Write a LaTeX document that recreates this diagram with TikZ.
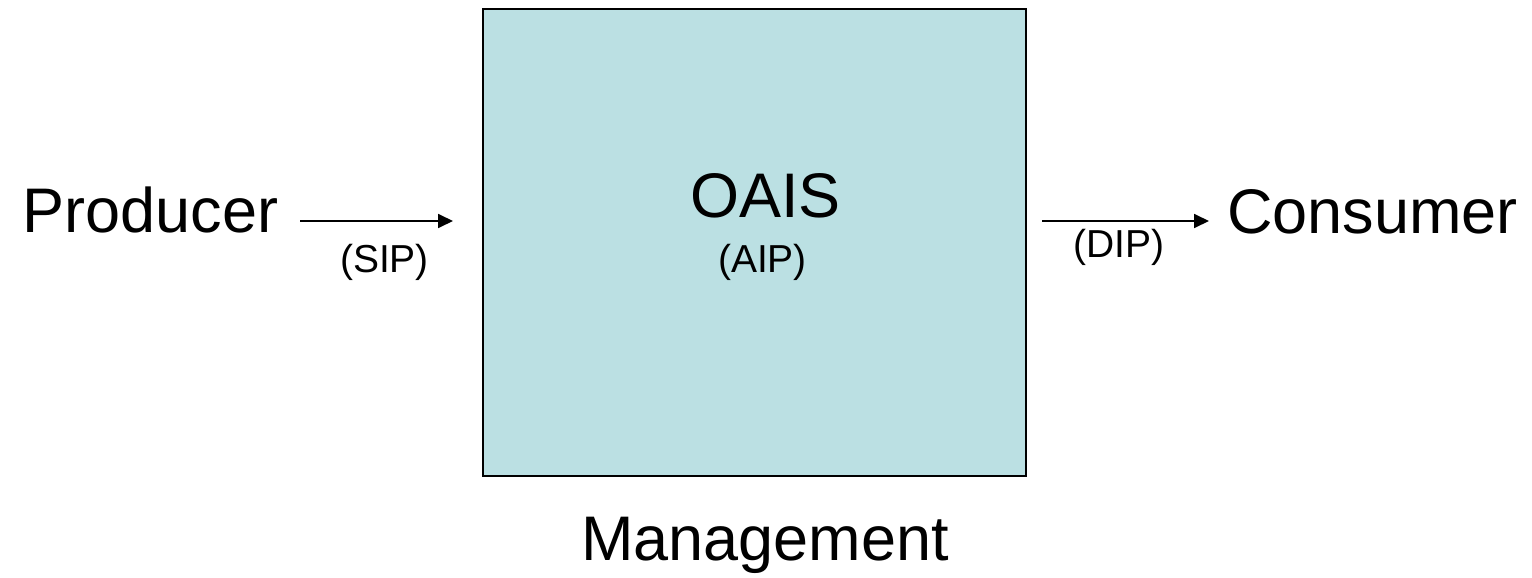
\documentclass[tikz,border=0pt]{standalone}
\usepackage{fontspec}
\setmainfont{Liberation Sans}
\usetikzlibrary{arrows.meta}
\definecolor{boxfill}{HTML}{BBE0E3}
\tikzset{
  big/.style={inner sep=0pt, font=\fontsize{63}{63}\selectfont, anchor=base},
  small/.style={inner sep=0pt, font=\fontsize{39}{39}\selectfont, anchor=base},
  flow/.style={line width=1.8pt, -{Triangle[length=15pt,width=14pt]}},
  oaisbox/.style={draw=black, line width=2pt, fill=boxfill}
}
\begin{document}
\begin{tikzpicture}[x=1pt,y=-1pt]
\useasboundingbox (0,0) rectangle (1532,578);
\draw[oaisbox] (483,9) rectangle (1026,476);
\coordinate (boxw) at (483,221);
\coordinate (boxe) at (1026,221);
\node[big] (prod) at (150.5,232) {Producer};
\node[big] (cons) at (1372.5,233) {Consumer};
\node[big] (oais) at (765.5,217) {OAIS};
\node[small] (aip) at (762.5,272) {(AIP)};
\node[small] (sip) at (384.5,272) {(SIP)};
\node[small] (dip) at (1119,257) {(DIP)};
\node[big] (mgmt) at (765,560) {Management};
\coordinate (sipstart) at (300,221);
\coordinate (sipend) at (453,221);
\coordinate (dipstart) at (1042,221);
\coordinate (dipend) at (1209,221);
\draw[flow] (sipstart) -- (sipend);
\draw[flow] (dipstart) -- (dipend);
\end{tikzpicture}
\end{document}
